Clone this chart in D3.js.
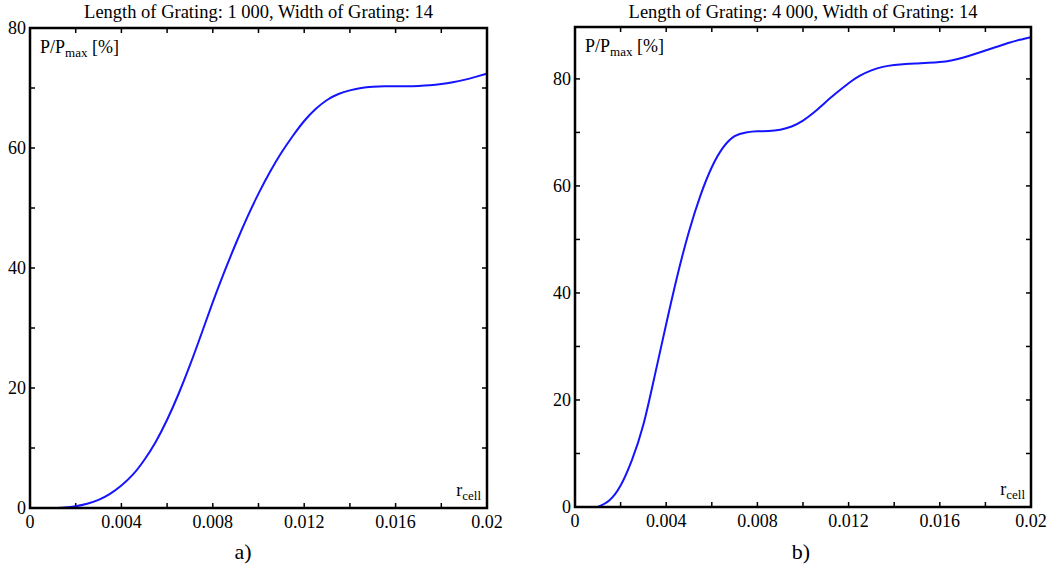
<!DOCTYPE html>
<html lang="en">
<head>
<meta charset="utf-8">
<title>P/Pmax vs r_cell</title>
<style>
  body { margin: 0; background: #fff; }
  svg text { font-family: "Liberation Serif", "Times New Roman", serif; fill: #000; }
</style>
<script src="https://d3js.org/d3.v7.min.js"></script>
</head>
<body>
<svg id="chart" width="1050" height="575"></svg>
<script>
// panel a) length of grating 1 000
const xA = [0.001, 0.0015, 0.002, 0.0025, 0.003, 0.0035, 0.004, 0.0045, 0.005, 0.0055, 0.006, 0.0065, 0.007, 0.0075, 0.008, 0.0085, 0.009, 0.0095, 0.010, 0.0105, 0.011, 0.0115, 0.012, 0.0125, 0.013, 0.0135, 0.014, 0.0145, 0.015, 0.0155, 0.016, 0.0165, 0.017, 0.0175, 0.018, 0.0185, 0.019, 0.0195, 0.020];
const yA = [0, 0.1, 0.3, 0.7, 1.35, 2.35, 3.75, 5.55, 8.0, 11.0, 14.7, 19.0, 23.8, 29.0, 34.3, 39.3, 44.0, 48.4, 52.4, 56.0, 59.2, 62.0, 64.5, 66.5, 68.0, 69.0, 69.6, 70.0, 70.2, 70.3, 70.3, 70.3, 70.35, 70.45, 70.65, 70.95, 71.35, 71.85, 72.4];

// panel b) length of grating 4 000
const xB = [0.001, 0.0015, 0.002, 0.0025, 0.003, 0.0035, 0.004, 0.0045, 0.005, 0.0055, 0.006, 0.0065, 0.007, 0.0075, 0.008, 0.0085, 0.009, 0.0095, 0.010, 0.0105, 0.011, 0.0115, 0.012, 0.0125, 0.013, 0.0135, 0.014, 0.0145, 0.015, 0.0155, 0.016, 0.0165, 0.017, 0.0175, 0.018, 0.0185, 0.019, 0.0195, 0.020];
const yB = [0, 1.2, 4.0, 8.8, 15.4, 24.6, 34.2, 43.4, 51.5, 58.2, 63.5, 67.2, 69.3, 70.0, 70.2, 70.25, 70.5, 71.1, 72.2, 73.8, 75.7, 77.5, 79.2, 80.6, 81.6, 82.25, 82.6, 82.8, 82.9, 83.0, 83.15, 83.45, 83.95, 84.6, 85.3, 86.0, 86.7, 87.3, 87.8];

const titles = ["Length of Grating: 1 000, Width of Grating: 14", "Length of Grating: 4 000, Width of Grating: 14"];
const panelTags = ["a)", "b)"];
const xMajor = [0, 0.004, 0.008, 0.012, 0.016, 0.02];
const xTickLabels = ["0", "0.004", "0.008", "0.012", "0.016", "0.02"];
const yMajorA = [0, 20, 40, 60, 80];
const yMajorB = [0, 20, 40, 60, 80];

const svg = d3.select("#chart");

const panels = [
  {x: xA, y: yA, left: 30, right: 487, top: 28, bottom: 508, ymax: 80, yMajor: yMajorA, tagX: 243},
  {x: xB, y: yB, left: 575, right: 1031, top: 27, bottom: 507, ymax: 89.7, yMajor: yMajorB, tagX: 801}
];

panels.forEach((p, i) => {
  const x = d3.scaleLinear().domain([0, 0.02]).range([p.left, p.right]);
  const y = d3.scaleLinear().domain([0, p.ymax]).range([p.bottom, p.top]);
  const g = svg.append("g");

  const xMinor = d3.range(0, 0.0201, 0.002);
  const yMinor = d3.range(0, p.ymax + 0.01, 10);

  // ticks pointing inward on all four sides
  const tl = 5;
  g.selectAll(".xtb").data(xMinor).join("line")
    .attr("x1", d => x(d)).attr("x2", d => x(d))
    .attr("y1", p.bottom).attr("y2", p.bottom - tl)
    .attr("stroke", "#000").attr("stroke-width", 1.5);
  g.selectAll(".xtt").data(xMinor).join("line")
    .attr("x1", d => x(d)).attr("x2", d => x(d))
    .attr("y1", p.top).attr("y2", p.top + tl)
    .attr("stroke", "#000").attr("stroke-width", 1.5);
  g.selectAll(".ytl").data(yMinor).join("line")
    .attr("x1", p.left).attr("x2", p.left + tl)
    .attr("y1", d => y(d)).attr("y2", d => y(d))
    .attr("stroke", "#000").attr("stroke-width", 1.5);
  g.selectAll(".ytr").data(yMinor).join("line")
    .attr("x1", p.right).attr("x2", p.right - tl)
    .attr("y1", d => y(d)).attr("y2", d => y(d))
    .attr("stroke", "#000").attr("stroke-width", 1.5);

  // curve
  const pts = p.x.map((v, k) => [v, p.y[k]]);
  g.append("path")
    .datum(pts)
    .attr("fill", "none")
    .attr("stroke", "#1414ff")
    .attr("stroke-width", 2)
    .attr("d", d3.line().x(d => x(d[0])).y(d => y(d[1])).curve(d3.curveNatural));

  // frame
  g.append("rect")
    .attr("x", p.left).attr("y", p.top)
    .attr("width", p.right - p.left).attr("height", p.bottom - p.top)
    .attr("fill", "none").attr("stroke", "#000").attr("stroke-width", 2.5);

  // tick labels
  g.selectAll(".xl").data(xMajor).join("text")
    .attr("x", d => x(d)).attr("y", p.bottom + 20)
    .attr("text-anchor", "middle").attr("font-size", 18)
    .text((d, k) => xTickLabels[k]);
  g.selectAll(".yl").data(p.yMajor).join("text")
    .attr("x", p.left - 4).attr("y", d => y(d) + 6)
    .attr("text-anchor", "end").attr("font-size", 18)
    .text(d => d);

  // title
  g.append("text")
    .attr("x", (p.left + p.right) / 2).attr("y", 18)
    .attr("text-anchor", "middle").attr("font-size", 18.5)
    .text(titles[i]);

  // axis labels inside the frame
  const yl = g.append("text").attr("x", p.left + 10).attr("y", p.top + 25).attr("font-size", 18);
  yl.append("tspan").text("P/P");
  yl.append("tspan").attr("font-size", 13).attr("dy", 4).text("max");
  yl.append("tspan").attr("dy", -4).text(" [%]");

  const xl = g.append("text").attr("x", p.right - 6).attr("y", p.bottom - 12)
    .attr("text-anchor", "end").attr("font-size", 18);
  xl.append("tspan").text("r");
  xl.append("tspan").attr("font-size", 13).attr("dy", 4).text("cell");

  // panel tag
  g.append("text")
    .attr("x", p.tagX).attr("y", 559)
    .attr("text-anchor", "middle").attr("font-size", 22)
    .text(panelTags[i]);
});
</script>
</body>
</html>
